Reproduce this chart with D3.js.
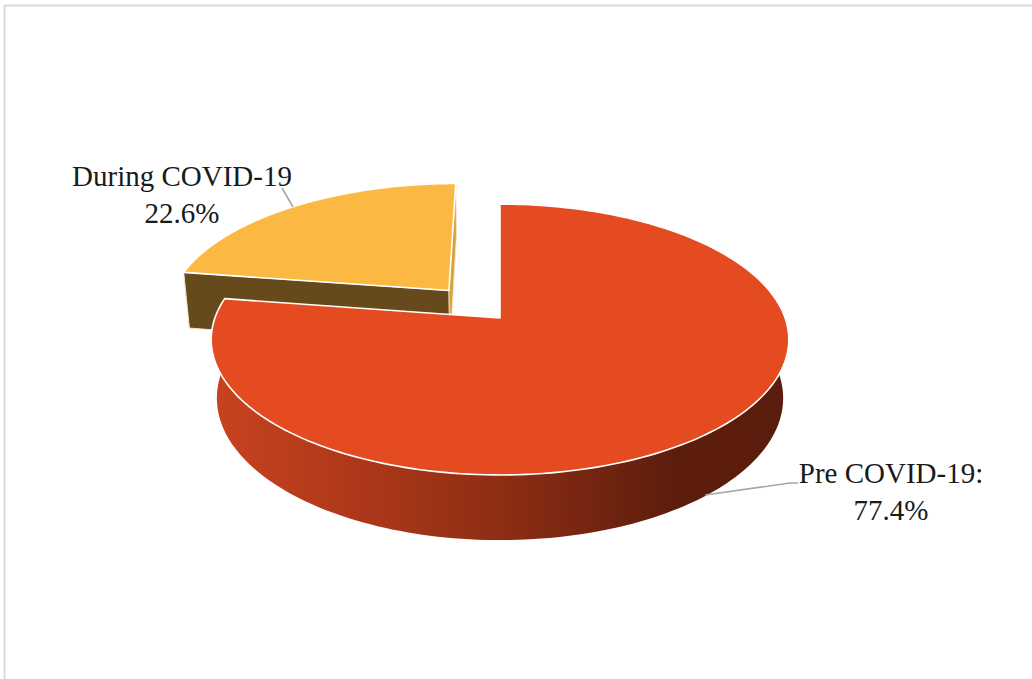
<!DOCTYPE html>
<html>
<head>
<meta charset="utf-8">
<script src="https://cdn.jsdelivr.net/npm/d3@7"></script>
<style>
  html, body { margin: 0; padding: 0; background: #fff; }
  svg { display: block; }
</style>
</head>
<body>
<svg id="chart" width="1032" height="679"></svg>
<script>
// ---- data ----
const categories = ["Pre COVID-19", "During COVID-19"];
const values = [77.4, 22.6];
const labelLines = [["Pre COVID-19:", "77.4%"], ["During COVID-19", "22.6%"]];
const explode = [0, 0.284];

// ---- styles ----
const topColors = ["#E54B21", "#FBB944"];
const faceColors = ["#7A2712", "#674A1C"];

const W = 1032, H = 679;
const svg = d3.select("#chart");

// frame
svg.append("rect").attr("x", 4.5).attr("y", 5.5).attr("width", 1040).attr("height", 700)
  .attr("fill", "#fff").attr("stroke", "#D9D9D9").attr("stroke-width", 2);

// perspective projection of a unit disk
const cx = 500, cy = 318, f = 1591, D = 5.58;
const sA = 0.463, cA = Math.sqrt(1 - sA * sA);
const thick = 0.234;
function proj(X, Y, Z) {
  const yc = Y * cA + Z * sA, zc = -Y * sA + Z * cA;
  const k = f / (D + zc);
  return [cx + X * k, cy - yc * k];
}

const pie = d3.pie().sort(null).value(d => d)(values);
const line = d3.line();

const defs = svg.append("defs");
const grad = defs.append("linearGradient").attr("id", "sideGrad")
  .attr("gradientUnits", "userSpaceOnUse").attr("x1", 211).attr("x2", 789).attr("y1", 0).attr("y2", 0);
[[0, "#C8431F"], [0.3, "#A83618"], [0.55, "#862B13"], [0.8, "#5D1D0D"], [1, "#5A1C0C"]]
  .forEach(s => grad.append("stop").attr("offset", s[0]).attr("stop-color", s[1]));

function slicePts(p, i) {
  const mid = (p.startAngle + p.endAngle) / 2;
  const ox = explode[i] * Math.sin(mid), oz = explode[i] * Math.cos(mid);
  const pt = (a, r, y) => proj(ox + r * Math.sin(a), y, oz + r * Math.cos(a));
  return pt;
}

function arcRange(a0, a1, n) {
  return d3.range(n + 1).map(j => a0 + (a1 - a0) * j / n);
}

const g = svg.append("g");

// draw yellow (index 1) first, then red (index 0)
[1, 0].forEach(i => {
  const p = pie[i];
  const pt = slicePts(p, i);
  const a0 = p.startAngle, a1 = p.endAngle;
  if (i === 1) {
    // radial face at start angle (faces viewer)
    g.append("path")
      .attr("d", line([pt(a0, 0, 0), pt(a0, 1, 0), pt(a0, 1, -thick), pt(a0, 0, -thick)]) + "Z")
      .attr("fill", faceColors[1]).attr("stroke", "#F3E3C4").attr("stroke-width", 1);
    // radial face at end angle (thin sliver)
    g.append("path")
      .attr("d", line([pt(a1, 0, 0), pt(a1, 1, 0), pt(a1, 1, -thick), pt(a1, 0, -thick)]) + "Z")
      .attr("fill", "#D9A13E").attr("stroke", "#F6E2B8").attr("stroke-width", 0.8);
  } else {
    // outer curved side
    const angs = arcRange(a0, a1, 200);
    const topE = angs.map(a => pt(a, 1, 0));
    const botE = angs.slice().reverse().map(a => pt(a, 1, -thick));
    g.append("path").attr("d", line(topE.concat(botE)) + "Z")
      .attr("fill", "url(#sideGrad)");
  }
  // top face
  const angs = arcRange(a0, a1, 200);
  const pts = [pt(a0, 0, 0)].concat(angs.map(a => pt(a, 1, 0)));
  g.append("path").attr("d", line(pts) + "Z")
    .attr("fill", topColors[i]).attr("stroke", "#FFFFFF").attr("stroke-width", 1.6)
    .attr("stroke-linejoin", "round");
});

// leader lines
const leaders = [
  [[705, 495], [790, 483], [798, 483]],
  [[293, 207], [282, 188]]
];
leaders.forEach(l => svg.append("path").attr("d", line(l)).attr("fill", "none")
  .attr("stroke", "#A6A6A6").attr("stroke-width", 1.6));

// labels
const labelPos = [[891, 483], [182, 186]];
labelLines.forEach((ls, i) => {
  const t = svg.append("text").attr("text-anchor", "middle")
    .attr("font-family", "'Liberation Serif', 'DejaVu Serif', serif")
    .attr("font-size", 29).attr("fill", "#1a1a1a");
  ls.forEach((s, j) => t.append("tspan").attr("x", labelPos[i][0])
    .attr("y", labelPos[i][1] + j * 37).text(s));
});
</script>
</body>
</html>
